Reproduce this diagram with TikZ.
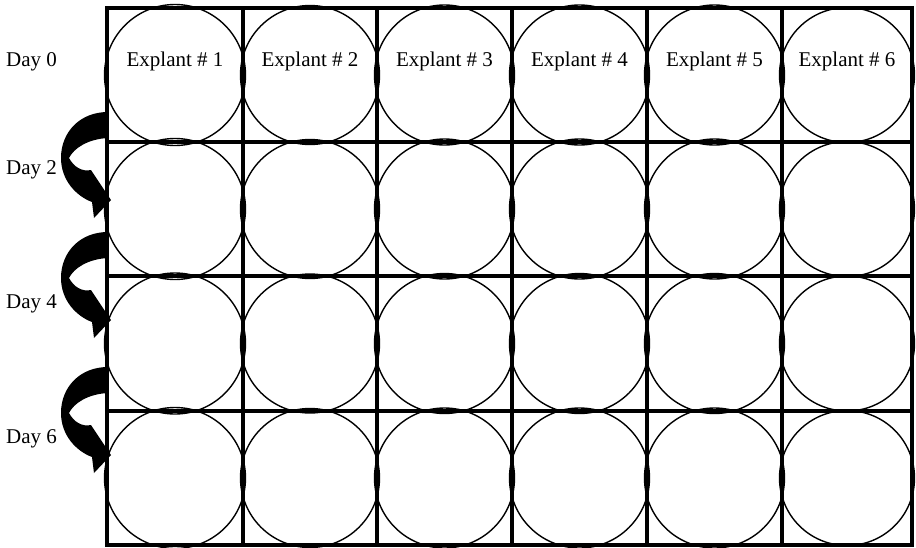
\documentclass[tikz,border=0pt]{standalone}
\usepackage{fontspec}
\setmainfont{Liberation Serif}
\begin{document}
\begin{tikzpicture}[x=1pt,y=-1pt,
  gridline/.style={line width=4pt, line cap=rect},
  well/.style={line width=1.4pt},
  lbl/.style={font=\fontsize{21}{25}\selectfont, inner sep=0pt},
  transferarrow/.style={fill=black}]
\useasboundingbox (0,0) rectangle (916,547);
% wells
\foreach \xa/\xb [count=\c] in {107/243,243/377,377/512,512/647,647/782,782/912}{
  \foreach \ya/\yb [count=\r] in {8/142,142/276,276/411,411/545}{
    \draw[well] ({(\xa+\xb)/2},{(\ya+\yb)/2}) circle ({(\xb-\xa)/2+2.5});
  }
}
% grid
\foreach \x in {107,243,377,512,647,782,912}{
  \draw[gridline] (\x,8) -- (\x,545);
}
\foreach \y in {8,142,276,411,545}{
  \draw[gridline] (107,\y) -- (912,\y);
}
% labels
\node[lbl,anchor=base west] (d0) at (6,66) {Day 0};
\node[lbl,anchor=base west] (d2) at (6,174) {Day 2};
\node[lbl,anchor=base west] (d4) at (6,308) {Day 4};
\node[lbl,anchor=base west] (d6) at (6,443) {Day 6};
\foreach \xa/\xb [count=\c] in {107/243,243/377,377/512,512/647,647/782,782/912}{
  \node[lbl,anchor=base] (e\c) at ({(\xa+\xb)/2},66) {Explant \# \c};
}
% curved transfer arrows
\foreach \yy in {112,232,367}{
  \begin{scope}[shift={(0,\yy)}]
    \fill[transferarrow] (108,0) .. controls (80,0) and (61,20) .. (61,46)
      .. controls (61,68) and (76,84) .. (92,90) -- (94,106) -- (111,88) -- (91,58)
      .. controls (82,60) and (74,55) .. (69,46)
      .. controls (74,36) and (88,27) .. (108,26) -- cycle;
  \end{scope}
}
\end{tikzpicture}
\end{document}
